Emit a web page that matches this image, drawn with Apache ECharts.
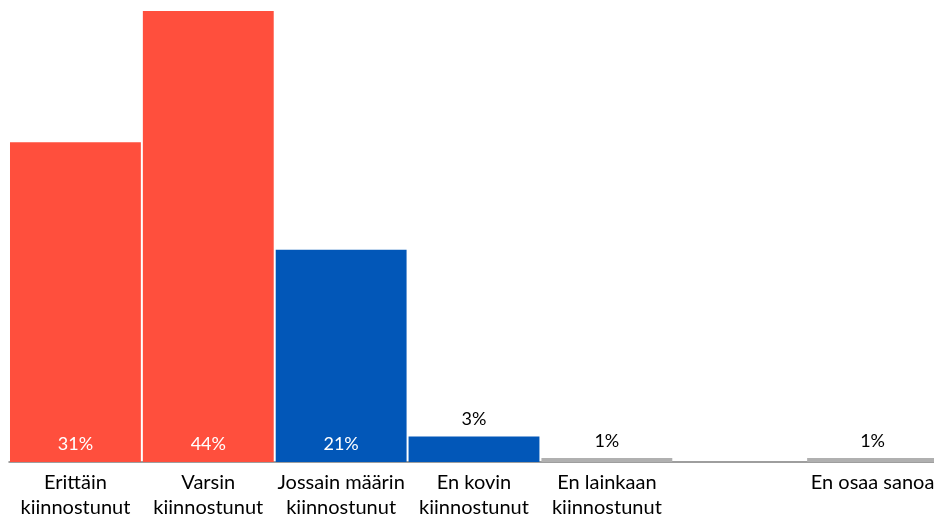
<!DOCTYPE html>
<html>
<head>
<meta charset="utf-8">
<script src="https://cdn.jsdelivr.net/npm/echarts@6/dist/echarts.min.js"></script>
<style>
html,body{margin:0;padding:0;background:#fff;overflow:hidden;width:934px;height:521px;}
#chart{width:940px;height:521px;}
</style>
</head>
<body>
<div id="chart"></div>
<script>
var categories = ['Erittäin\nkiinnostunut', 'Varsin\nkiinnostunut', 'Jossain määrin\nkiinnostunut', 'En kovin\nkiinnostunut', 'En lainkaan\nkiinnostunut', '', 'En osaa sanoa'];
var values = [31.2, 44, 20.7, 2.5, 0.4, null, 0.4];
var valueLabels = ['31%', '44%', '21%', '3%', '1%', '', '1%'];
var barColors = ['#FF4F3D', '#FF4F3D', '#0257B8', '#0257B8', '#B0B0B0', '#B0B0B0', '#B0B0B0'];
var insideLabel = [true, true, true, false, false, false, false];

var seriesData = values.map(function (v, i) {
  return {
    value: v,
    itemStyle: { color: barColors[i] },
    label: insideLabel[i] ? {
      show: true, position: 'insideBottom', distance: 9, color: '#ffffff',
      formatter: valueLabels[i]
    } : {
      show: true, position: 'top', distance: 8, color: '#000000',
      formatter: valueLabels[i]
    }
  };
});

var chart = echarts.init(document.getElementById('chart'));
chart.setOption({
  animation: false,
  grid: { left: 9, right: 1, top: 11, bottom: 59, containLabel: false },
  xAxis: {
    type: 'category',
    data: categories,
    axisLine: { show: true, lineStyle: { color: '#7F7F7F', width: 1.5 } },
    axisTick: { show: false },
    axisLabel: {
      interval: 0, margin: 8, color: '#000000',
      fontFamily: 'Lato', fontSize: 20, lineHeight: 25, verticalAlign: 'top'
    }
  },
  yAxis: {
    type: 'value', min: 0, max: 44, show: false,
    splitLine: { show: false }
  },
  series: [{
    type: 'bar',
    data: seriesData,
    barCategoryGap: '1.5%',
    label: { fontFamily: 'Lato', fontSize: 18 }
  }]
});
</script>
</body>
</html>
